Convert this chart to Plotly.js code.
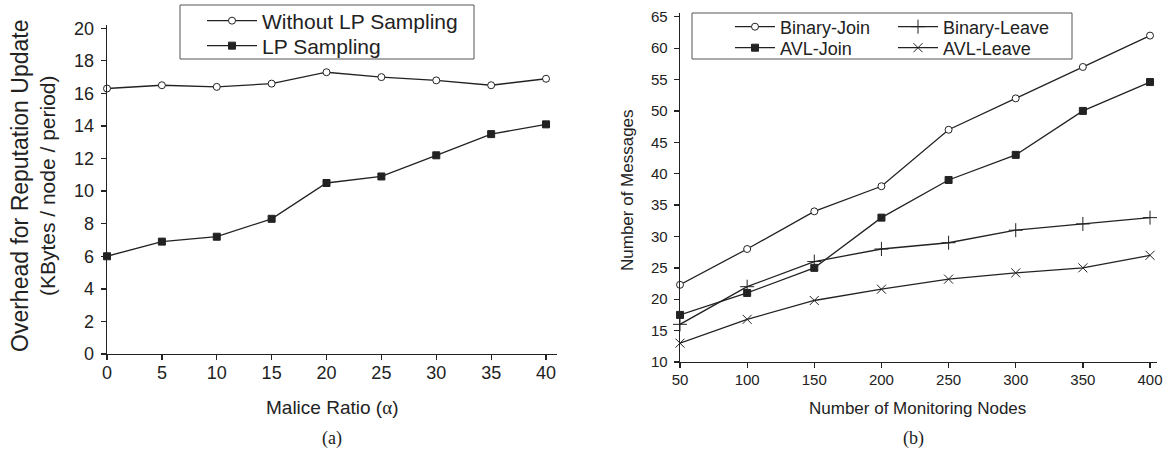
<!DOCTYPE html>
<html>
<head>
<meta charset="utf-8">
<script src="https://cdn.plot.ly/plotly-3.0.1.min.js"></script>
<style>
  html, body { margin: 0; padding: 0; background: #fff; }
  #chart { width: 1165px; height: 456px; }
</style>
</head>
<body>
<div id="chart"></div>
<script>
// (a) reputation-update overhead versus malice ratio
const maliceRatio = [0, 5, 10, 15, 20, 25, 30, 35, 40];
const withoutLP   = [16.3, 16.5, 16.4, 16.6, 17.3, 17.0, 16.8, 16.5, 16.9];
const withLP      = [6.0, 6.9, 7.2, 8.3, 10.5, 10.9, 12.2, 13.5, 14.1];

// (b) message count versus number of monitoring nodes
const monitoringNodes = [50, 100, 150, 200, 250, 300, 350, 400];
const binaryJoin  = [22.3, 28, 34, 38, 47, 52, 57, 62];
const binaryLeave = [16, 22, 26, 28, 29, 31, 32, 33];
const avlJoin     = [17.5, 21, 25, 33, 39, 43, 50, 54.6];
const avlLeave    = [13, 16.8, 19.8, 21.6, 23.2, 24.2, 25, 27];

const W = 1165, H = 456;
const px = v => v / W;          // horizontal pixel -> paper fraction
const py = v => 1 - v / H;      // vertical pixel (from top) -> paper fraction

const INK = '#222';
const SANS = 'Liberation Sans, Arial, Helvetica, sans-serif';
const SERIF = 'Liberation Serif, Times New Roman, serif';

function series(x, y, name, symbol, size, xa, ya, legend, fill) {
  return {
    type: 'scatter', mode: 'lines+markers', x, y, name,
    xaxis: xa, yaxis: ya, legend,
    line: { color: INK, width: 1.3 },
    marker: { symbol, size, color: fill, line: { color: INK, width: 1 } },
    cliponaxis: false
  };
}

// every legend entry gets its own legend so rows and columns sit exactly
const traces = [
  series(maliceRatio, withoutLP, 'Without LP Sampling', 'circle', 7, 'x', 'y', 'legend', '#fff'),
  series(maliceRatio, withLP, 'LP Sampling', 'square', 7, 'x', 'y', 'legend2', INK),
  series(monitoringNodes, binaryJoin, 'Binary-Join', 'circle', 7, 'x2', 'y2', 'legend3', '#fff'),
  series(monitoringNodes, binaryLeave, 'Binary-Leave', 'cross-thin-open', 10, 'x2', 'y2', 'legend4', INK),
  series(monitoringNodes, avlJoin, 'AVL-Join', 'square', 7, 'x2', 'y2', 'legend5', INK),
  series(monitoringNodes, avlLeave, 'AVL-Leave', 'x-thin-open', 9, 'x2', 'y2', 'legend6', INK)
];

function axis(domain, range, dtick, fontSize, anchor, standoff) {
  return {
    domain, range, dtick, anchor,
    showline: true, linecolor: INK, linewidth: 1.3,
    ticks: 'outside', ticklen: 5, tickwidth: 1.3, tickcolor: INK,
    showgrid: false, zeroline: false, fixedrange: true,
    ticklabelstandoff: standoff,
    tickfont: { family: SANS, size: fontSize, color: INK }
  };
}

function legendAt(x, y, size, itemwidth) {
  return {
    x: px(x), y: py(y), xanchor: 'left', yanchor: 'middle',
    bgcolor: 'rgba(0,0,0,0)', borderwidth: 0,
    font: { family: SANS, size, color: INK },
    itemwidth
  };
}

function label(text, x, y, size, family, angle) {
  return {
    text, xref: 'paper', yref: 'paper', x: px(x), y: py(y),
    xanchor: 'center', yanchor: 'middle', textangle: angle || 0,
    showarrow: false, font: { family, size, color: INK }
  };
}

const layout = {
  width: W, height: H,
  margin: { l: 0, r: 0, t: 0, b: 0, autoexpand: false },
  paper_bgcolor: '#fff', plot_bgcolor: '#fff',
  showlegend: true,
  xaxis:  axis([px(107), px(557)], [0, 41], 5, 18, 'y', -3),
  yaxis:  axis([py(354), py(25)], [0, 20.2], 2, 18, 'x', 3),
  xaxis2: axis([px(680), px(1157)], [50, 405.2], 50, 15, 'y2', -1),
  yaxis2: axis([py(362), py(13)], [10, 65.6], 5, 15, 'x2', 3),
  legend:  legendAt(202, 21, 21, 50),
  legend2: legendAt(202, 46, 21, 50),
  legend3: legendAt(730, 27, 18, 40),
  legend4: legendAt(893, 27, 18, 40),
  legend5: legendAt(730, 48, 18, 40),
  legend6: legendAt(893, 48, 18, 40),
  shapes: [
    { type: 'rect', xref: 'paper', yref: 'paper',
      x0: px(180), x1: px(474), y0: py(59), y1: py(5),
      line: { color: '#555', width: 1 } },
    { type: 'rect', xref: 'paper', yref: 'paper',
      x0: px(692), x1: px(1072), y0: py(59), y1: py(13),
      line: { color: '#555', width: 1 } }
  ],
  annotations: [
    label('<span style="font-size:23px">Overhead for Reputation Update</span><br>(KBytes / node / period)',
          33, 186, 21, SANS, -90),
    label('Malice Ratio (<span style="font-family:' + SERIF + '">α</span>)', 332, 407, 19, SANS),
    label('(a)', 332, 438, 18, SERIF),
    label('Number of Messages', 627, 190, 17, SANS, -90),
    label('Number of Monitoring Nodes', 917, 408, 17, SANS),
    label('(b)', 913, 438, 18, SERIF)
  ]
};

Plotly.newPlot('chart', traces, layout, { displayModeBar: false, staticPlot: true });
</script>
</body>
</html>
